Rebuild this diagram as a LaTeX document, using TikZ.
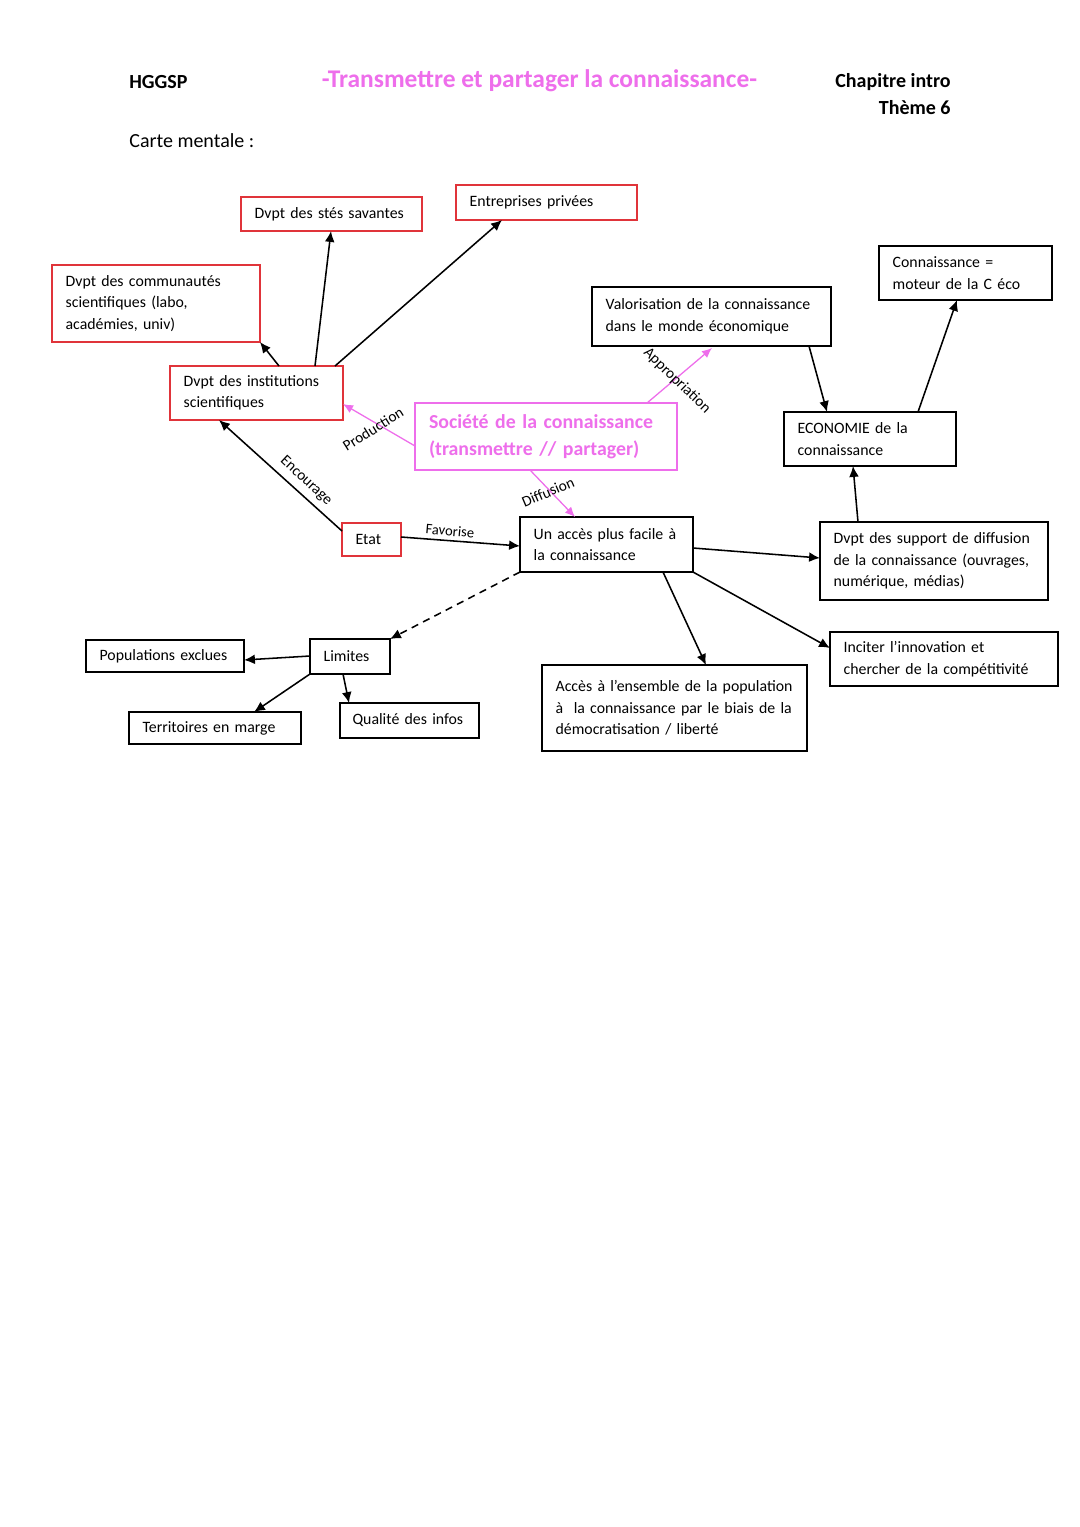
\documentclass[tikz,border=0pt]{standalone}
\usepackage{fontspec}
\setmainfont{Carlito}
\usetikzlibrary{arrows.meta,calc}
\definecolor{redb}{RGB}{224,52,58}
\definecolor{pinkc}{RGB}{238,110,235}
\begin{document}
\begin{tikzpicture}[x=0.55pt,y=-0.55pt,
  box/.style={draw, rectangle, line width=0.8pt, align=left, inner xsep=7.5pt, inner ysep=1pt,
    outer sep=0pt, anchor=north west, font=\fontsize{8.7}{11.8}\selectfont},
  redbox/.style={box, draw=redb},
  blackbox/.style={box, draw=black},
  pinkbox/.style={box, draw=pinkc, line width=1.3pt, text=pinkc, inner xsep=7.7pt,
    font=\fontsize{10.9}{14.85}\selectfont\bfseries},
  arr/.style={-{Latex[length=6pt,width=5.4pt]}, line width=0.85pt, black},
  parr/.style={-{Latex[length=5.5pt,width=4.8pt]}, line width=0.7pt, pinkc},
  dasharr/.style={arr, dash pattern=on 4pt off 3pt},
  lbl/.style={font=\fontsize{8.4}{10}\selectfont, inner sep=0pt},
  hdr/.style={font=\fontsize{11}{13}\selectfont, inner sep=0pt}
]
\fill[white] (0,0) rectangle (1080,1527);
\useasboundingbox (0,0) rectangle (1080,1527);

% header
\node[hdr, font=\fontsize{11}{13}\selectfont\bfseries, anchor=west] (hggsp) at (129,82) {HGGSP};
\node[hdr, font=\fontsize{14}{16}\selectfont\bfseries, text=pinkc] (title) at (539.5,81) {-Transmettre et partager la connaissance-};
\node[hdr, font=\fontsize{11}{13}\selectfont\bfseries, anchor=east] (chap) at (951,82) {Chapitre intro};
\node[hdr, font=\fontsize{11}{13}\selectfont\bfseries, anchor=east] (theme) at (951,108) {Thème 6};
\node[hdr, anchor=west] (carte) at (129,141) {Carte mentale :};

% boxes
\node[redbox, minimum width=99.55pt, minimum height=18.7pt, text width=84.5pt] (stes) at (241,197) {Dvpt des stés savantes};
\node[redbox, minimum width=99.55pt, minimum height=19.25pt, text width=84.5pt] (entr) at (456,185) {Entreprises privées};
\node[redbox, minimum width=114.4pt, minimum height=42.35pt, text width=99.4pt] (comm) at (52,265) {Dvpt des communautés\\scientifiques (labo,\\académies, univ)};
\node[redbox, minimum width=95.15pt, minimum height=29.7pt, text width=80.1pt] (inst) at (170,366) {Dvpt des institutions\\scientifiques};
\node[blackbox, minimum width=131.45pt, minimum height=32.45pt, text width=116.4pt] (valo) at (592,287) {Valorisation de la connaissance\\dans le monde économique};
\node[blackbox, minimum width=95.15pt, minimum height=29.7pt, text width=80.1pt] (conn) at (879,246) {Connaissance =\\moteur de la C éco};
\node[pinkbox, minimum width=144.1pt, minimum height=36.85pt, text width=128.7pt] (soc) at (415,403) {Société de la connaissance\\(transmettre // partager)};
\node[blackbox, minimum width=94.6pt, minimum height=29.7pt, text width=79.6pt] (eco) at (784,412) {ECONOMIE de la\\connaissance};
\node[redbox, minimum width=32.45pt, minimum height=18.15pt, text width=17.4pt] (etat) at (342,523) {Etat};
\node[blackbox, minimum width=95.15pt, minimum height=30.25pt, text width=80.1pt] (acces) at (520,517) {Un accès plus facile à\\la connaissance};
\node[blackbox, minimum width=125.4pt, minimum height=42.9pt, text width=110.4pt] (supp) at (820,522) {Dvpt des support de diffusion\\de la connaissance (ouvrages,\\numérique, médias)};
\node[blackbox, minimum width=44pt, minimum height=19.25pt, text width=29pt] (lim) at (310,639) {Limites};
\node[blackbox, minimum width=86.9pt, minimum height=17.6pt, text width=71.9pt] (pop) at (86,640) {Populations exclues};
\node[blackbox, minimum width=94.6pt, minimum height=17.6pt, text width=79.6pt] (terr) at (129,712) {Territoires en marge};
\node[blackbox, inner xsep=6.9pt, minimum width=76.45pt, minimum height=19.25pt, text width=62.6pt] (qual) at (340,703) {Qualité des infos};
\node[blackbox, minimum width=145.75pt, minimum height=47.3pt, text width=130.75pt] (ens) at (542,665) {Accès à l’ensemble de la population\\à\ \ la connaissance par le biais de la\\démocratisation / liberté};
\node[blackbox, minimum width=125.4pt, minimum height=29.7pt, text width=110.4pt] (inno) at (830,632) {Inciter l’innovation et\\chercher de la compétitivité};

% black connectors
\draw[arr] ($(inst.north west)+(145,0)$) -- ($(stes.north west)+(90,34)$);
\draw[arr] ($(inst.north west)+(165,0)$) -- ($(entr.north west)+(46,35)$);
\draw[arr] ($(inst.north west)+(109,0)$) -- (comm.south east);
\draw[arr] ($(etat.north west)+(0,8)$) -- ($(inst.north west)+(49,54)$);
\draw[arr] ($(etat.north west)+(59,14)$) -- ($(acces.north west)+(0,29)$);
\draw[dasharr] (acces.south west) -- (lim.north east);
\draw[arr] ($(lim.north west)+(0,17)$) -- ($(pop.north west)+(158,20)$);
\draw[arr] (lim.south west) -- ($(terr.north west)+(125,0)$);
\draw[arr] ($(lim.north west)+(33,35)$) -- ($(qual.north west)+(9,0)$);
\draw[arr] ($(acces.north west)+(173,31)$) -- ($(supp.north west)+(0,36)$);
\draw[arr] ($(acces.north west)+(143,55)$) -- ($(ens.north west)+(164,0)$);
\draw[arr] (acces.south east) -- ($(inno.north west)+(0,16)$);
\draw[arr] ($(supp.north west)+(38,0)$) -- ($(eco.north west)+(69,54)$);
\draw[arr] ($(valo.north west)+(217,59)$) -- ($(eco.north west)+(43,0)$);
\draw[arr] ($(eco.north west)+(134,0)$) -- ($(conn.north west)+(78,54)$);

% pink connectors
\draw[parr] ($(soc.north west)+(0,43)$) -- ($(inst.north west)+(173,38)$);
\draw[parr] ($(soc.north west)+(232,0)$) -- ($(valo.north west)+(120,61)$);
\draw[parr] ($(soc.north west)+(115,67)$) -- ($(acces.north west)+(55,0)$);

% labels
\node[lbl, rotate=32] (lprod) at (373,429) {Production};
\node[lbl, rotate=-44] (lappr) at (677,381) {Appropriation};
\node[lbl, rotate=23] (ldiff) at (548,492) {Diffusion};
\node[lbl, rotate=-43] (lenc) at (306,481) {Encourage};
\node[lbl, rotate=-5, font=\fontsize{8}{9.5}\selectfont] (lfav) at (450,531) {Favorise};
\end{tikzpicture}
\end{document}
